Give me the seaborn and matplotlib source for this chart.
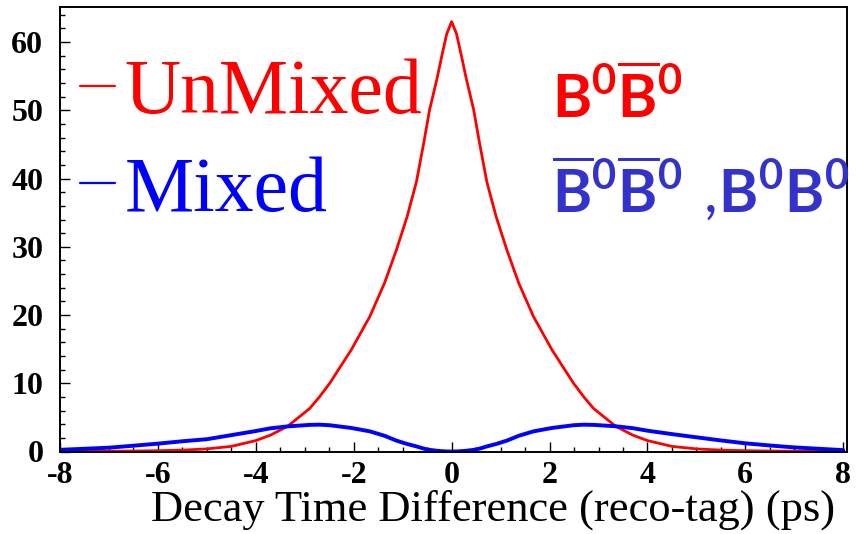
import matplotlib
matplotlib.use("Agg")
import matplotlib.pyplot as plt
from matplotlib.ticker import MultipleLocator
import seaborn as sns
import pandas as pd

# ---- data ----
dt = [-8.0, -7.5, -7.0, -6.5, -6.0, -5.5, -5.0, -4.5, -4.0, -3.7, -3.35, -2.9, -2.7, -2.49,
      -2.05, -1.67, -1.37, -1.13, -0.91, -0.72, -0.57, -0.45, -0.3, -0.2, -0.1,
      0.0,
      0.1, 0.2, 0.3, 0.45, 0.57, 0.72, 0.91, 1.13, 1.37, 1.67, 2.05, 2.49, 2.7, 2.9,
      3.35, 3.7, 4.0, 4.5, 5.0, 5.5, 6.0, 6.5, 7.0, 7.5, 8.0]
unmixed = [0.02, 0.03, 0.05, 0.07, 0.12, 0.2, 0.38, 0.75, 1.6, 2.4, 3.7, 6.3, 8.0, 10.0,
           14.9, 19.8, 24.7, 29.5, 34.4, 39.5, 45.2, 50.1, 54.6, 58.0, 61.2,
           63.0,
           61.2, 58.0, 54.6, 50.1, 45.2, 39.5, 34.4, 29.5, 24.7, 19.8, 14.9, 10.0, 8.0, 6.3,
           3.7, 2.4, 1.6, 0.75, 0.38, 0.2, 0.12, 0.07, 0.05, 0.03, 0.02]
mixed = [0.25, 0.4, 0.56, 0.85, 1.15, 1.5, 1.8, 2.4, 3.0, 3.4, 3.68, 3.9, 3.93, 3.85,
         3.45, 2.95, 2.3, 1.6, 1.1, 0.75, 0.42, 0.24, 0.11, 0.05, 0.01,
         0.0,
         0.01, 0.05, 0.11, 0.24, 0.42, 0.75, 1.1, 1.6, 2.3, 2.95, 3.45, 3.85, 3.93, 3.9,
         3.7, 3.42, 3.05, 2.55, 2.08, 1.62, 1.2, 0.88, 0.6, 0.4, 0.2]
series_labels = ["UnMixed", "Mixed"]
xticks = [-8, -6, -4, -2, 0, 2, 4, 6, 8]
yticks = [0, 10, 20, 30, 40, 50, 60]
xlabel = "Decay Time Difference (reco-tag) (ps)"
red_text = r"$\mathbf{B}^{\mathbf{0}}\overline{\mathbf{B}}^{\mathbf{0}}$"
blue_text = (r"$\overline{\mathbf{B}}^{\mathbf{0}}\overline{\mathbf{B}}^{\mathbf{0}}"
             r"\ ,\!\mathbf{B}^{\mathbf{0}}\mathbf{B}^{\mathbf{0}}$")

df = pd.DataFrame({"dt": dt, "UnMixed": unmixed, "Mixed": mixed})

sns.set_style("ticks")
plt.rcParams["font.family"] = ["Liberation Serif", "DejaVu Serif"]
plt.rcParams["mathtext.fontset"] = "custom"
plt.rcParams["mathtext.rm"] = "Lato"
plt.rcParams["mathtext.bf"] = "Lato:bold"
plt.rcParams["axes.unicode_minus"] = False
plt.rcParams["text.color"] = "black"
plt.rcParams["axes.labelcolor"] = "black"

fig = plt.figure(figsize=(8.64, 5.34), dpi=100)
ax = fig.add_axes([60 / 864, 82.5 / 534, (846.7 - 60) / 864, (451.5 - 7.3) / 534])

sns.lineplot(data=df, x="dt", y="UnMixed", ax=ax, color="#ff0000", linewidth=2.0,
             label=series_labels[0], sort=False)
sns.lineplot(data=df, x="dt", y="Mixed", ax=ax, color="#0000ff", linewidth=2.8,
             label=series_labels[1], sort=False)

ax.set_xlim(-8.0, 8.07)
ax.set_ylim(0, 65.1)
ax.set_xticks(xticks)
ax.set_yticks(yticks)
ax.xaxis.set_minor_locator(MultipleLocator(0.5))
ax.yaxis.set_minor_locator(MultipleLocator(2))
ax.tick_params(which="both", direction="in", top=False, right=False, colors="black")
ax.tick_params(which="major", length=7, width=1.0)
ax.tick_params(which="minor", length=3.6, width=1.0)
ax.tick_params(axis="y", which="major", pad=12)
ax.tick_params(axis="x", which="major", pad=7)
for lab in ax.get_xticklabels() + ax.get_yticklabels():
    lab.set_fontsize(23)
    lab.set_fontweight("bold")
    lab.set_color("black")
for sp in ax.spines.values():
    sp.set_visible(True)
    sp.set_linewidth(1.4)
    sp.set_color("black")

ax.set_ylabel("")
ax.set_xlabel(xlabel, fontsize=32, loc="right", color="black")
ax.xaxis.set_label_coords(0.985, -0.0865)

leg = ax.legend(loc="upper left", bbox_to_anchor=(80 / 864, 1 - 59 / 534),
                bbox_transform=fig.transFigure, frameon=False, fontsize=56,
                handlelength=0.45, handletextpad=0.12, labelspacing=0.33,
                borderpad=0, borderaxespad=0)
for h in leg.get_lines():
    h.set_linewidth(1.6)
for t, c in zip(leg.get_texts(), ["#ff0000", "#0000ff"]):
    t.set_color(c)

fig.text(552 / 864, 1 - 118 / 534, red_text, color="#ff0000", fontsize=43,
         ha="left", va="baseline")
fig.text(552 / 864, 1 - 213 / 534, blue_text, color="#3333cc", fontsize=43,
         ha="left", va="baseline")

fig.savefig("out.png", dpi=100)
